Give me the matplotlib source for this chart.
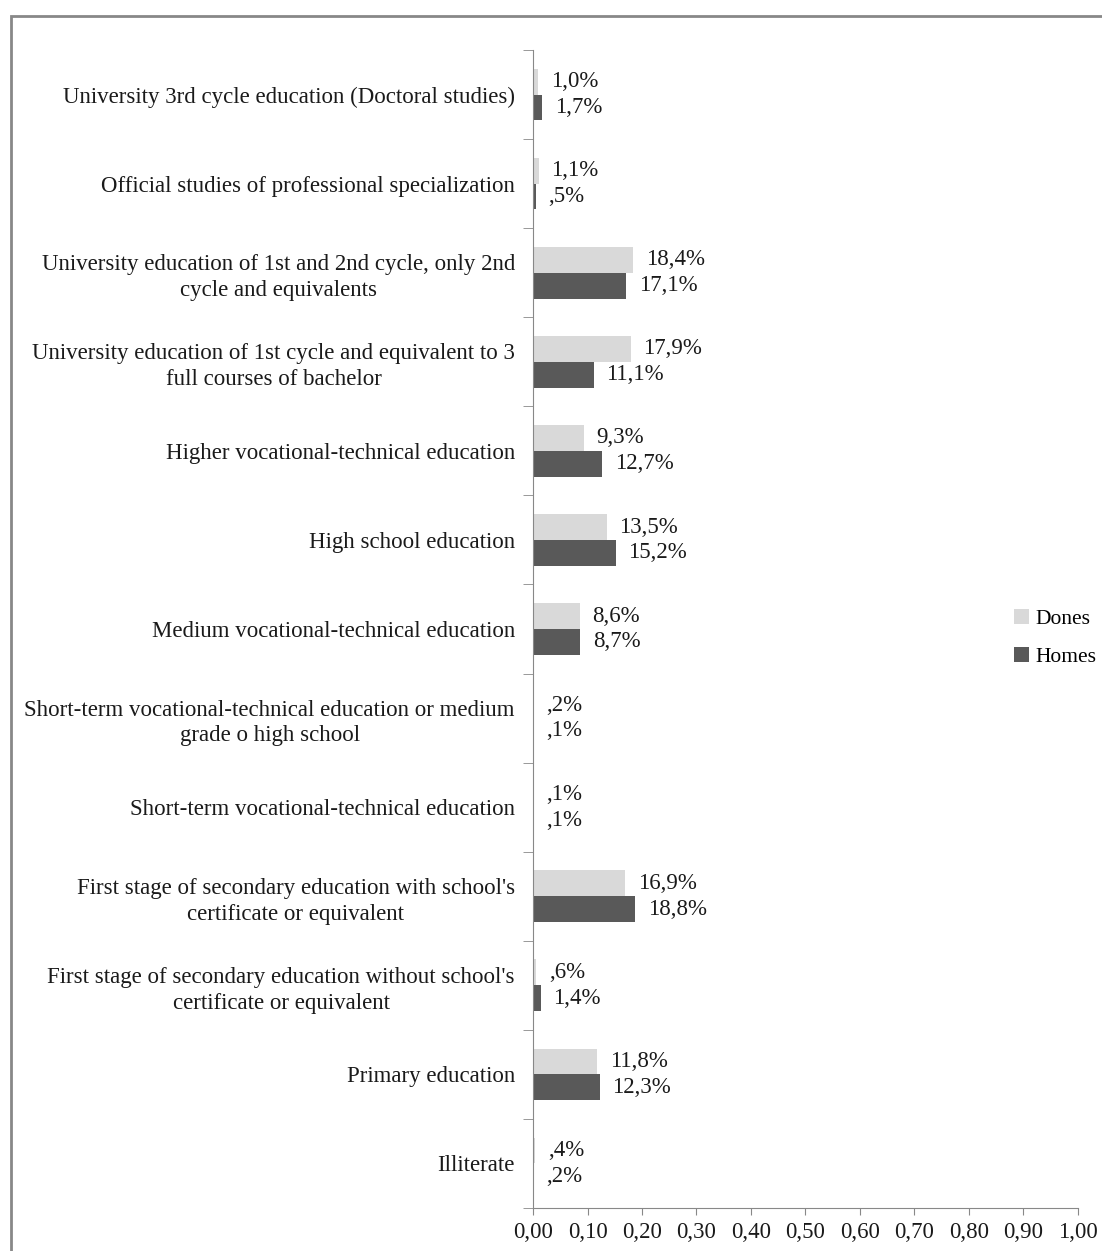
import matplotlib.pyplot as plt
import numpy as np
from matplotlib.patches import Rectangle

plt.rcParams['font.family'] = ['Liberation Serif', 'DejaVu Serif']

# Dades
categories = [
    "University 3rd cycle education (Doctoral studies)",
    "Official studies of professional specialization",
    "University education of 1st and 2nd cycle, only 2nd\ncycle and equivalents",
    "University education of 1st cycle and equivalent to 3\nfull courses of bachelor",
    "Higher vocational-technical education",
    "High school education",
    "Medium vocational-technical education",
    "Short-term vocational-technical education or medium\ngrade o high school",
    "Short-term vocational-technical education",
    "First stage of secondary education with school's\ncertificate or equivalent",
    "First stage of secondary education without school's\ncertificate or equivalent",
    "Primary education",
    "Illiterate",
]
dones = [0.010, 0.011, 0.184, 0.179, 0.093, 0.135, 0.086, 0.002, 0.001, 0.169, 0.006, 0.118, 0.004]
homes = [0.017, 0.005, 0.171, 0.111, 0.127, 0.152, 0.087, 0.001, 0.001, 0.188, 0.014, 0.123, 0.002]
xticks = [0.0, 0.1, 0.2, 0.3, 0.4, 0.5, 0.6, 0.7, 0.8, 0.9, 1.0]


def pct(v):
    s = f"{v*100:.1f}%".replace('.', ',')
    if s.startswith('0,'):
        s = s[1:]
    return s


fig = plt.figure(figsize=(11.02, 12.51), dpi=100)
ax = fig.add_axes([0.4837, 0.0344, 0.978 - 0.4837, 0.960 - 0.0344])

y = np.arange(len(categories))
h = 0.29
b1 = ax.barh(y - h/2, dones, height=h, color='#d9d9d9', label='Dones')
b2 = ax.barh(y + h/2, homes, height=h, color='#595959', label='Homes')
ax.bar_label(b1, labels=[pct(v) for v in dones], padding=9, fontsize=16.5, color='#1a1a1a')
ax.bar_label(b2, labels=[pct(v) for v in homes], padding=9, fontsize=16.5, color='#1a1a1a')

ax.set_ylim(len(categories) - 0.5, -0.5)
ax.set_xlim(0, 1.0)
ax.set_yticks(y)
ax.set_yticklabels(categories, fontsize=16.5, color='#1a1a1a', multialignment='center',
                   linespacing=1.3)
ax.set_yticks(np.arange(len(categories) + 1) - 0.5, minor=True)
ax.tick_params(axis='y', which='major', length=0, pad=13)
ax.tick_params(axis='y', which='minor', length=7, color='#888888', direction='out')
ax.set_xticks(xticks)
ax.set_xticklabels([f"{t:.2f}".replace('.', ',') for t in xticks], fontsize=16.5, color='#1a1a1a')
ax.tick_params(axis='x', length=5, color='#888888', direction='out', pad=5)

for s in ['top', 'right']:
    ax.spines[s].set_visible(False)
for s in ['left', 'bottom']:
    ax.spines[s].set_color('#888888')

fig.legend(loc='center left', bbox_to_anchor=(995/1102, 1 - 638/1251), frameon=False,
           fontsize=15.5, handlelength=0.7, handleheight=0.7, handletextpad=0.3,
           labelspacing=0.8)

fig.patches.append(Rectangle((11/1102, -0.01), 1.0, 1 - 16/1251 + 0.01, transform=fig.transFigure,
                             fill=False, edgecolor='#888888', linewidth=2))

fig.savefig('out.png', dpi=100)
